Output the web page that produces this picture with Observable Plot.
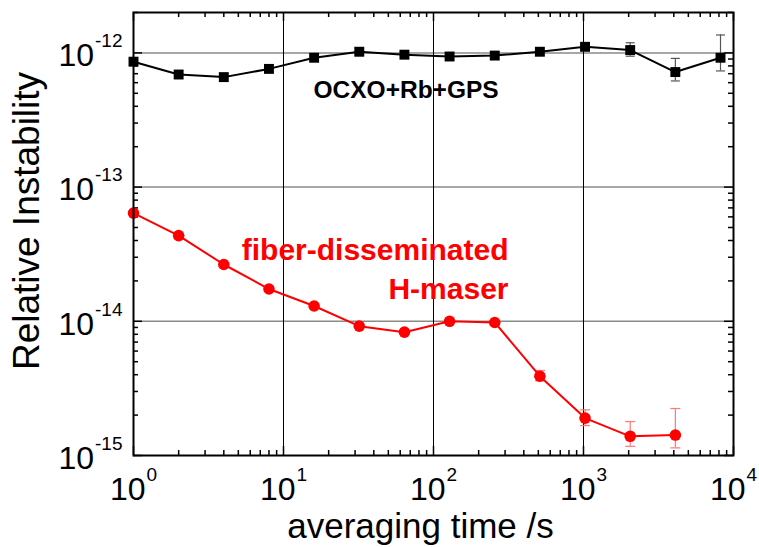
<!DOCTYPE html>
<html>
<head>
<meta charset="utf-8">
<script src="https://cdn.jsdelivr.net/npm/d3@7"></script>
<script src="https://cdn.jsdelivr.net/npm/@observablehq/plot@0.6"></script>
<style>
  html, body { margin: 0; padding: 0; background: #fff; }
  svg { font-family: "Liberation Sans", Arial, sans-serif; }
</style>
</head>
<body>
<div id="chart"></div>
<script>
// ---- data ----
const tau = [1, 2, 4, 8, 16, 32, 64, 128, 256, 512, 1024, 2048, 4096, 8192];
const ocxo = [8.6e-13, 6.9e-13, 6.6e-13, 7.6e-13, 9.2e-13, 1.02e-12, 9.7e-13, 9.4e-13, 9.55e-13, 1.02e-12, 1.11e-12, 1.05e-12, 7.2e-13, 9.2e-13];
const ocxoLo = [null, null, null, null, null, null, null, null, null, null, 1.07e-12, 9.45e-13, 6.18e-13, 7.34e-13];
const ocxoHi = [null, null, null, null, null, null, null, null, null, null, 1.16e-12, 1.19e-12, 9.1e-13, 1.36e-12];
const maser = [6.4e-14, 4.35e-14, 2.65e-14, 1.74e-14, 1.3e-14, 9.2e-15, 8.3e-15, 1.0e-14, 9.8e-15, 3.9e-15, 1.9e-15, 1.39e-15, 1.42e-15];
const maserLo = [null, null, null, null, null, null, null, null, null, 3.6e-15, 1.67e-15, 1.17e-15, 1.14e-15];
const maserHi = [null, null, null, null, null, null, null, null, null, 4.3e-15, 2.19e-15, 1.79e-15, 2.24e-15];
const xMajor = [1, 10, 100, 1000, 10000];
const yMajor = [1e-15, 1e-14, 1e-13, 1e-12];
const xLabel = "averaging time /s";
const yLabel = "Relative Instability";
const ocxoName = "OCXO+Rb+GPS";
const maserName = "fiber-disseminated\nH-maser";

// ---- tables ----
const ocxoRows = tau.map((t, i) => ({tau: t, v: ocxo[i], lo: ocxoLo[i], hi: ocxoHi[i]}));
const maserRows = maser.map((v, i) => ({tau: tau[i], v, lo: maserLo[i], hi: maserHi[i]}));
const ocxoErr = ocxoRows.filter(d => d.lo != null);
const maserErr = maserRows.filter(d => d.lo != null);

const W = 759, H = 547;
const mL = 133, mR = 26, mT = 12, mB = 92;
const plotW = W - mL - mR, plotH = H - mT - mB;
const xDomain = [1, 1e4], yDomain = [1e-15, 2e-12];

const xAll = d3.scaleLog().domain(xDomain).ticks();
const yAll = d3.scaleLog().domain(yDomain).ticks();
const isMajor = v => Math.abs(Math.log10(v) - Math.round(Math.log10(v))) < 1e-9;
const xMinor = xAll.filter(v => !isMajor(v));
const yMinor = yAll.filter(v => !isMajor(v));

const capSymbol = {draw(ctx, size) { const w = Math.sqrt(size / Math.PI); ctx.moveTo(-w, 0); ctx.lineTo(w, 0); }};
const fmt = d => "10^" + Math.round(Math.log10(d));
const MAJ = 9, MIN = 5;

const chart = Plot.plot({
  width: W, height: H,
  marginLeft: mL, marginRight: mR, marginTop: mT, marginBottom: mB,
  style: {fontFamily: '"Liberation Sans", Arial, sans-serif', background: "#fff"},
  x: {type: "log", domain: xDomain, label: null},
  y: {type: "log", domain: yDomain, label: null},
  marks: [
    // grid
    Plot.ruleY(yMajor.slice(1), {stroke: "#8a8a8a", strokeWidth: 1.5}),
    Plot.ruleX(xMajor.slice(1, -1), {stroke: "#000", strokeWidth: 1}),
    // inward ticks: bottom / top
    Plot.ruleX(xMajor, {stroke: "#000", strokeWidth: 1.5, insetTop: plotH - MAJ}),
    Plot.ruleX(xMinor, {stroke: "#000", strokeWidth: 1.5, insetTop: plotH - MIN}),
    Plot.ruleX(xMajor, {stroke: "#000", strokeWidth: 1.5, insetBottom: plotH - MAJ}),
    Plot.ruleX(xMinor, {stroke: "#000", strokeWidth: 1.5, insetBottom: plotH - MIN}),
    // inward ticks: left / right
    Plot.ruleY(yMajor, {stroke: "#000", strokeWidth: 1.5, insetRight: plotW - MAJ}),
    Plot.ruleY(yMinor, {stroke: "#000", strokeWidth: 1.5, insetRight: plotW - MIN}),
    Plot.ruleY(yMajor, {stroke: "#000", strokeWidth: 1.5, insetLeft: plotW - MAJ}),
    Plot.ruleY(yMinor, {stroke: "#000", strokeWidth: 1.5, insetLeft: plotW - MIN}),
    // axes (labels only)
    Plot.axisX({ticks: xMajor, tickSize: 0, tickPadding: 22, fontSize: 32, tickFormat: fmt, label: null}),
    Plot.axisY({ticks: yMajor, tickSize: 0, tickPadding: 11, fontSize: 32, tickFormat: fmt, dy: 3, label: null}),
    // error bars
    Plot.ruleX(ocxoErr, {x: "tau", y1: "lo", y2: "hi", stroke: "#555", strokeWidth: 1.2}),
    Plot.dot(ocxoErr, {x: "tau", y: "lo", symbol: capSymbol, r: 4.5, fill: "none", stroke: "#555", strokeWidth: 1.2}),
    Plot.dot(ocxoErr, {x: "tau", y: "hi", symbol: capSymbol, r: 4.5, fill: "none", stroke: "#555", strokeWidth: 1.2}),
    Plot.ruleX(maserErr, {x: "tau", y1: "lo", y2: "hi", stroke: "#f77", strokeWidth: 1.2}),
    Plot.dot(maserErr, {x: "tau", y: "lo", symbol: capSymbol, r: 5, fill: "none", stroke: "#f77", strokeWidth: 1.2}),
    Plot.dot(maserErr, {x: "tau", y: "hi", symbol: capSymbol, r: 5, fill: "none", stroke: "#f77", strokeWidth: 1.2}),
    // series
    Plot.line(ocxoRows, {x: "tau", y: "v", stroke: "#000", strokeWidth: 2}),
    Plot.dot(ocxoRows, {x: "tau", y: "v", symbol: "square", r: 5.6, fill: "#000", stroke: "none"}),
    Plot.line(maserRows, {x: "tau", y: "v", stroke: "#ff0000", strokeWidth: 2}),
    Plot.dot(maserRows, {x: "tau", y: "v", r: 5.8, fill: "#ff0000", stroke: "none"}),
    // frame
    Plot.frame({stroke: "#000", strokeWidth: 2}),
    // series labels
    Plot.text([ocxoName], {text: d => d, frameAnchor: "top-left", textAnchor: "start", lineAnchor: "bottom",
      dx: 180, dy: 85, fontSize: 24.5, fontWeight: "bold", fill: "#000"}),
    Plot.text([maserName], {text: d => d, frameAnchor: "top-left", textAnchor: "end", lineAnchor: "bottom",
      dx: 375, dy: 286, fontSize: 30, fontWeight: "bold", fill: "#ff0000", lineHeight: 1.27}),
    // axis titles
    Plot.text([xLabel], {text: d => d, frameAnchor: "bottom", textAnchor: "middle", lineAnchor: "bottom", dx: -13, dy: 82, fontSize: 35, fill: "#000"}),
    Plot.text([yLabel], {text: d => d, frameAnchor: "left", textAnchor: "middle", lineAnchor: "bottom", rotate: -90, dx: -95, dy: -13, fontSize: 37, fill: "#000"})
  ]
});

// turn "10^n" tick labels into 10 with a superscript exponent
d3.select(chart).selectAll('g[aria-label="x-axis tick label"] text, g[aria-label="y-axis tick label"] text').each(function() {
  const s = this.textContent;
  const m = s.match(/^10\^(-?\d+)$/);
  if (!m) return;
  const t = d3.select(this);
  t.text(null);
  t.append("tspan").text("10");
  t.append("tspan").attr("dx", 1).attr("dy", -19).attr("font-size", 19).text(m[1]);
});

document.getElementById("chart").appendChild(chart);
</script>
</body>
</html>
